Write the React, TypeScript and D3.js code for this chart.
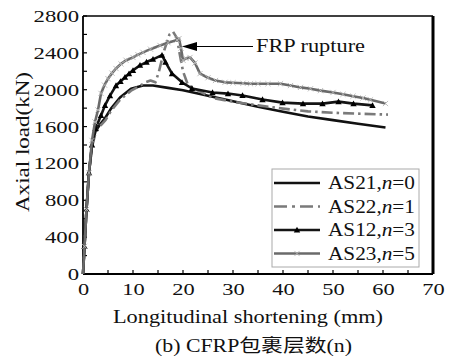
import React from "react";
import * as d3 from "d3";

const W = 455, H = 359;
const xTicks = [0, 10, 20, 30, 40, 50, 60, 70];
const yTicks = [0, 400, 800, 1200, 1600, 2000, 2400, 2800];

const as21X = [0,0.3,0.7,1.2,1.8,2.5,3.5,4.4,5.6,7.4,9.6,12,14,17,20,25,30,35,40,45,50,55,60.5];
const as21Y = [0,300,700,1100,1400,1550,1630,1690,1795,1915,2010,2045,2045,2020,1995,1935,1875,1815,1760,1710,1670,1630,1590];

const as22X = [0,0.3,0.7,1.2,1.8,2.5,3.5,4.5,5.6,7.4,9.6,11,12.5,13.5,14.5,15.2,16.2,17.3,18,18.8,19.3,20,21,23,26,30,35,40,45,50,55,61];
const as22Y = [0,300,700,1100,1380,1530,1610,1670,1770,1890,1990,2030,2080,2100,2080,2200,2420,2600,2630,2560,2400,2200,2050,1990,1910,1870,1830,1795,1765,1750,1740,1730];

const as12X = [0,0.3,0.7,1.2,1.8,2.5,3.6,4.4,5.4,6.6,7.5,8.4,9.2,10,11.4,12.7,14,15.8,16.5,17.8,19.8,21.8,25.9,29,31.9,35.9,39.9,44,47.9,51.1,54.1,57.9];
const as12Y = [0,300,700,1100,1400,1580,1720,1830,1935,2045,2090,2135,2175,2210,2265,2300,2330,2375,2300,2175,2080,2013,1969,1958,1937,1893,1860,1849,1849,1871,1849,1830];

const as23X = [0,0.3,0.7,1.2,1.8,2.4,3,3.6,4.3,5,5.8,6.6,7.6,8.6,10,11,12,13.5,15.4,17,18.8,19.2,19.6,20,20.6,21.4,22.4,23.4,25,26.5,28.4,30,32,33.5,35,37,39.5,41.5,43.5,45.5,47.5,50,52,54,56,57.5,60.5];
const as23Y = [0,300,700,1100,1450,1650,1780,1960,2050,2120,2180,2230,2280,2320,2350,2380,2405,2440,2480,2510,2540,2555,2450,2320,2340,2350,2290,2175,2130,2100,2080,2075,2070,2065,2065,2065,2065,2045,2025,2010,1990,1970,1950,1930,1910,1890,1850];

const legendLabels = ["AS21,", "AS22,", "AS12,", "AS23,"];
const legendN = ["0", "1", "3", "5"];

const FONT = "Liberation Serif, Times New Roman, DejaVu Serif, serif";
const ts = { fontFamily: FONT };

export default function App() {
  const x = d3.scaleLinear().domain([0, 70]).range([83, 433]);
  const y = d3.scaleLinear().domain([0, 2800]).range([274, 16]);
  const line = (xs: number[], ys: number[]) =>
    d3.line<number>().x((_, i) => x(xs[i])).y((d) => y(d))(ys) || "";

  const series = [
    { xs: as21X, ys: as21Y, color: "#111", dash: "", marker: "none" },
    { xs: as22X, ys: as22Y, color: "#7a7a7a", dash: "11,4,2.5,4", marker: "none" },
    { xs: as12X, ys: as12Y, color: "#141414", dash: "", marker: "tri" },
    { xs: as23X, ys: as23Y, color: "#6a6a6a", dash: "", marker: "x" },
  ];

  const tri = (cx: number, cy: number, s = 3.2) =>
    `M${cx},${cy - s}L${cx + s},${cy + s * 0.8}L${cx - s},${cy + s * 0.8}Z`;
  const cross = (cx: number, cy: number, s = 2.6) =>
    `M${cx - s},${cy - s}L${cx + s},${cy + s}M${cx - s},${cy + s}L${cx + s},${cy - s}`;

  const minorX = d3.range(0, 71, 5);
  const minorY = d3.range(0, 2801, 200);
  const legY = [183, 206.5, 230, 253.5];

  return (
    <svg width={W} height={H} style={{ position: "absolute", left: 0, top: 0, background: "#fff", fontFamily: FONT }}>
      <rect x={0} y={0} width={W} height={H} fill="#fff" />
      {minorX.map((t) => (
        <line key={"xt" + t} x1={x(t)} x2={x(t)} y1={y(0)} y2={y(0) - 4} stroke="#000" strokeWidth={1.2} />
      ))}
      {minorY.map((t) => (
        <line key={"yt" + t} x1={x(0)} x2={x(0) + 4} y1={y(t)} y2={y(t)} stroke="#000" strokeWidth={1.2} />
      ))}
      <line x1={x(0)} x2={x(70)} y1={y(2800)} y2={y(2800)} stroke="#000" strokeWidth={1.6} />
      <line x1={x(70)} x2={x(70)} y1={y(2800)} y2={y(0)} stroke="#000" strokeWidth={3} />
      <line x1={x(0)} x2={x(70)} y1={y(0)} y2={y(0)} stroke="#000" strokeWidth={1.8} />
      <line x1={x(0)} x2={x(0)} y1={y(2800)} y2={y(0)} stroke="#000" strokeWidth={1.8} />

      {xTicks.map((t) => (
        <text key={"xl" + t} style={ts} transform={`translate(${x(t) + 0.5},${y(0) + 21}) scale(1.28,1)`} textAnchor="middle" fontSize={17.5} fill="#111">
          {t}
        </text>
      ))}
      {yTicks.map((t) => (
        <text key={"yl" + t} style={ts} transform={`translate(79,${y(t) + 6}) scale(1.3,1)`} textAnchor="end" fontSize={17.5} fill="#111">
          {t}
        </text>
      ))}

      {series.map((s, i) => (
        <g key={"s" + i}>
          <path d={line(s.xs, s.ys)} fill="none" stroke={s.color} strokeWidth={2.6} strokeDasharray={s.dash} strokeLinejoin="round" />
          {s.marker === "tri" &&
            s.xs.slice(1).map((xx, j) => <path key={j} d={tri(x(xx), y(s.ys[j + 1]))} fill="#000" />)}
          {s.marker === "x" &&
            s.xs.slice(1).map((xx, j) => (
              <path key={j} d={cross(x(xx), y(s.ys[j + 1]))} stroke="#b5b5b5" strokeWidth={0.9} fill="none" />
            ))}
        </g>
      ))}

      <line x1={195} x2={253} y1={46.5} y2={46.5} stroke="#000" strokeWidth={1.2} />
      <path d="M182,46.5L197,42L197,51Z" fill="#000" />
      <text style={ts} x={256} y={52} fontSize={18.5} textLength={109} lengthAdjust="spacingAndGlyphs" fill="#111">FRP rupture</text>

      <rect x={272} y={169} width={147} height={98} fill="#fff" stroke="#aaa" strokeWidth={1} />
      {series.map((s, i) => (
        <g key={"l" + i}>
          <line x1={274} x2={320} y1={legY[i]} y2={legY[i]} stroke={s.color} strokeWidth={2.6} strokeDasharray={s.dash ? "13,5,3,5" : ""} />
          {s.marker === "tri" && <path d={tri(297, legY[i])} fill="#000" />}
          {s.marker === "x" && <path d={cross(297, legY[i])} stroke="#b5b5b5" strokeWidth={0.9} fill="none" />}
          <text style={ts} x={328} y={legY[i] + 6} fontSize={18} textLength={87} lengthAdjust="spacingAndGlyphs" fill="#111">
            {legendLabels[i]}
            <tspan fontStyle="italic">n</tspan>={legendN[i]}
          </text>
        </g>
      ))}

      <text style={ts} x={113} y={323} fontSize={19} textLength={270} lengthAdjust="spacingAndGlyphs" fill="#111">
        Longitudinal shortening (mm)
      </text>
      <text style={ts} x={155} y={352} fontSize={18} textLength={197} lengthAdjust="spacingAndGlyphs" fill="#111">
        (b) CFRP<tspan style={{ fontFamily: "Noto Sans CJK SC, sans-serif" }}>包裹层数</tspan>(n)
      </text>
      <text style={ts} transform="translate(29,212) rotate(-90)" x={0} y={0} fontSize={19} textLength={140} lengthAdjust="spacingAndGlyphs" fill="#111">
        Axial load(kN)
      </text>
    </svg>
  );
}
